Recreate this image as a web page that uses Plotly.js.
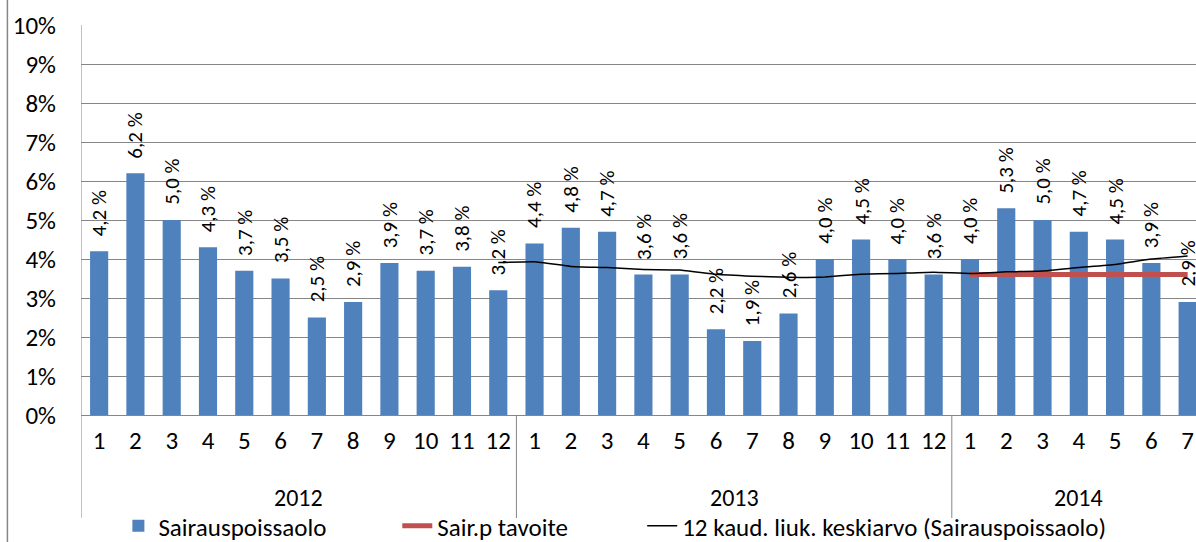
<!DOCTYPE html>
<html>
<head>
<meta charset="utf-8">
<script src="https://cdn.plot.ly/plotly-3.0.1.min.js"></script>
<style>html,body{margin:0;padding:0;background:#fff;}#chart{width:1196px;height:542px;}</style>
</head>
<body>
<div id="chart"></div>
<script>
// ---- data ----
const years = ['2012', '2013', '2014'];
const yearCenters = [5.5, 17.5, 27];
const months = ['1','2','3','4','5','6','7','8','9','10','11','12',
                '1','2','3','4','5','6','7','8','9','10','11','12',
                '1','2','3','4','5','6','7'];
const absence = [4.2, 6.2, 5.0, 4.3, 3.7, 3.5, 2.5, 2.9, 3.9, 3.7, 3.8, 3.2,
                 4.4, 4.8, 4.7, 3.6, 3.6, 2.2, 1.9, 2.6, 4.0, 4.5, 4.0, 3.6,
                 4.0, 5.3, 5.0, 4.7, 4.5, 3.9, 2.9];
const movingAvgStart = 11;
const movingAvg = [3.91, 3.93, 3.81, 3.78, 3.73, 3.72, 3.61, 3.56, 3.53, 3.54,
                   3.61, 3.63, 3.66, 3.63, 3.67, 3.69, 3.78, 3.86, 4.00, 4.08];
const targetStart = 24;
const target = [3.6, 3.6, 3.6, 3.6, 3.6, 3.6, 3.6];
const yTicks = [0,1,2,3,4,5,6,7,8,9,10];
const seriesNames = ['Sairauspoissaolo', 'Sair.p tavoite', '12 kaud. liuk. keskiarvo (Sairauspoissaolo)'];

// ---- build ----
const FONT = 'Carlito, Lato, sans-serif';
const xIdx = months.map((m, i) => i);
const maX = movingAvg.map((v, i) => i + movingAvgStart);
const tX = target.map((v, i) => i + targetStart);

const traces = [
  {type: 'bar', x: xIdx, y: absence, name: seriesNames[0], width: 0.5,
   marker: {color: '#4F81BD'}, hoverinfo: 'y', legend: 'legend'},
  {type: 'scatter', mode: 'lines', x: tX, y: target, name: seriesNames[1],
   line: {color: '#C0504D', width: 5}, legend: 'legend2'},
  {type: 'scatter', mode: 'lines', x: maX, y: movingAvg, name: seriesNames[2],
   line: {color: '#000000', width: 1.5, shape: 'spline', smoothing: 0.3}, legend: 'legend3'}
];

const plotBottom = 415, plotTop = 25, plotH = plotBottom - plotTop;
const py = (pix) => (plotBottom - pix) / plotH;

const annotations = absence.map((v, i) => ({
  x: i, y: v, xref: 'x', yref: 'y',
  text: v.toFixed(1).replace('.', ',') + ' %',
  textangle: -90, showarrow: false, xanchor: 'center', yanchor: 'bottom', yshift: 13,
  font: {family: FONT, size: 21, color: '#000'}
}));
years.forEach((yr, k) => annotations.push({
  x: yearCenters[k], y: py(498), xref: 'x', yref: 'paper', text: yr, showarrow: false,
  xanchor: 'center', yanchor: 'middle', borderpad: 0, font: {family: FONT, size: 24, color: '#000'}
}));

const shapes = [
  {type: 'line', xref: 'x', yref: 'paper', x0: -0.5, x1: -0.5, y0: 1, y1: py(518), line: {color: '#868686', width: 1}},
  {type: 'line', xref: 'x', yref: 'paper', x0: 11.5, x1: 11.5, y0: 0, y1: py(518), line: {color: '#868686', width: 1}},
  {type: 'line', xref: 'x', yref: 'paper', x0: 23.5, x1: 23.5, y0: 0, y1: py(518), line: {color: '#868686', width: 1}},
  {type: 'line', xref: 'paper', yref: 'paper', x0: -0.066, x1: -0.066, y0: py(-5), y1: py(560), line: {color: '#868686', width: 1.5}}
];

const legendFont = {family: FONT, size: 25, color: '#000'};
const legY = py(526);
const plotW = 1196 - 80.6;
const px = (pix) => (pix - 80.6) / plotW;

const layout = {
  width: 1196, height: 542,
  margin: {l: 80.6, r: 0, t: plotTop, b: 542 - plotBottom, pad: 0, autoexpand: false},
  paper_bgcolor: '#fff', plot_bgcolor: '#fff',
  showlegend: true,
  bargap: 0.5,
  xaxis: {range: [-0.5, 30.23], tickmode: 'array', tickvals: xIdx, ticktext: months,
          showgrid: false, zeroline: false, showline: false, ticks: '', automargin: false,
          ticklabelstandoff: 8, tickfont: {family: FONT, size: 25, color: '#000'}, fixedrange: true},
  yaxis: {range: [0, 10], tickmode: 'array', tickvals: yTicks, ticktext: yTicks.map(t => t + '%'),
          showgrid: true, gridcolor: '#868686', gridwidth: 1, zeroline: true, zerolinecolor: '#868686',
          zerolinewidth: 1, showline: false, ticks: '', ticklabelstandoff: 24, automargin: false,
          tickfont: {family: FONT, size: 25, color: '#000'}, fixedrange: true},
  legend: {orientation: 'h', x: px(118), y: legY, xanchor: 'left', yanchor: 'middle', font: legendFont, bgcolor: 'rgba(0,0,0,0)'},
  legend2: {orientation: 'h', x: px(397), y: legY, xanchor: 'left', yanchor: 'middle', font: legendFont, bgcolor: 'rgba(0,0,0,0)'},
  legend3: {orientation: 'h', x: px(642), y: legY, xanchor: 'left', yanchor: 'middle', font: legendFont, bgcolor: 'rgba(0,0,0,0)'},
  annotations: annotations,
  shapes: shapes
};

Plotly.newPlot('chart', traces, layout, {displayModeBar: false, staticPlot: true});
</script>
</body>
</html>
